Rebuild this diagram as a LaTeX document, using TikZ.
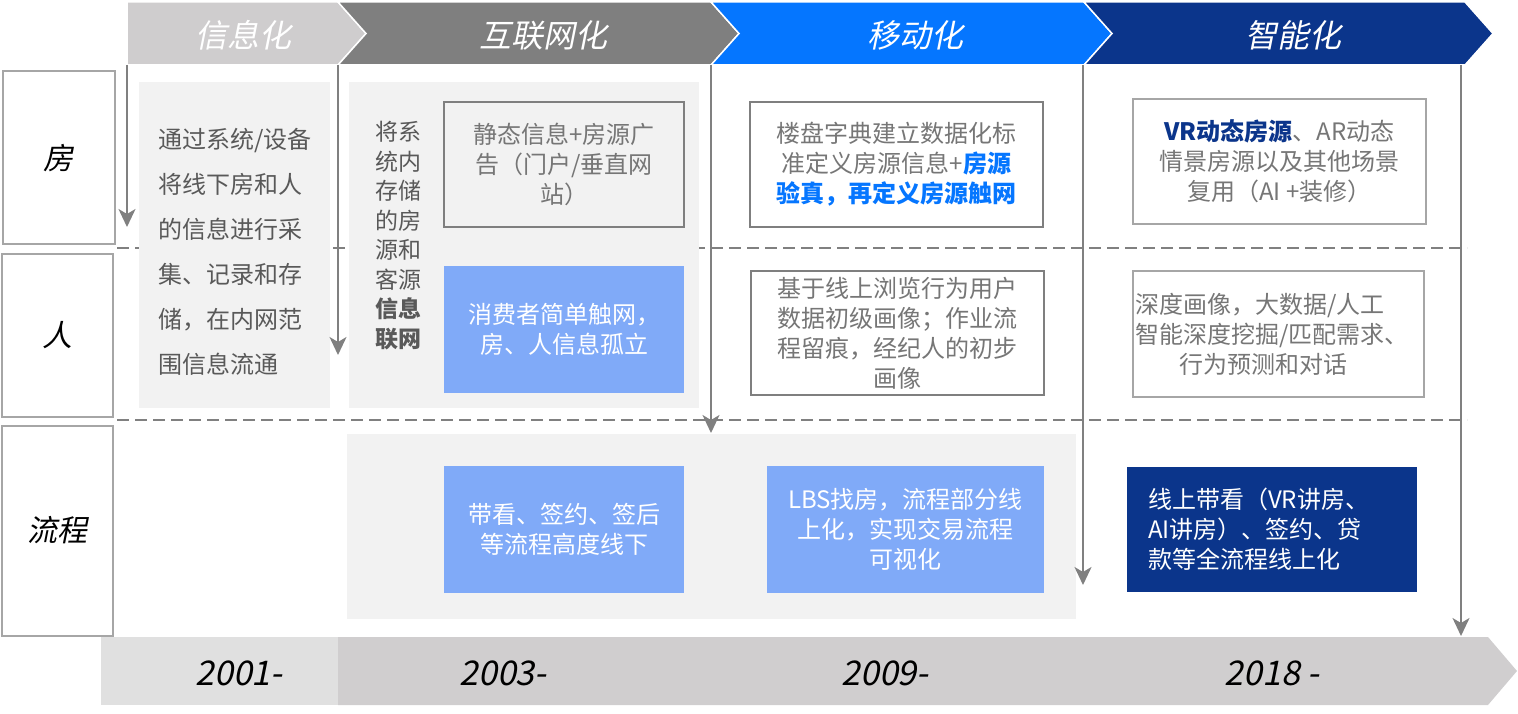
\documentclass[tikz,border=0pt]{standalone}
\usepackage{fontspec}
\setmainfont{Noto Sans CJK SC}
\newfontfamily\itfont{Noto Sans CJK SC}[FakeSlant=0.2]
\usetikzlibrary{arrows.meta}
\definecolor{hdrA}{RGB}{207,205,206}
\definecolor{hdrB}{RGB}{127,127,127}
\definecolor{hdrC}{RGB}{5,118,255}
\definecolor{hdrD}{RGB}{11,53,139}
\definecolor{panel}{RGB}{242,242,242}
\definecolor{lblue}{RGB}{128,170,248}
\definecolor{txtg}{RGB}{89,89,89}
\definecolor{txtl}{RGB}{118,118,118}
\definecolor{lineg}{RGB}{128,128,128}
\definecolor{boxg}{RGB}{166,166,166}
\definecolor{yrA}{RGB}{224,224,224}
\definecolor{yrB}{RGB}{208,206,207}
\begin{document}
\begin{tikzpicture}[x=1pt,y=-1pt,
  arr/.style={draw=lineg, line width=2pt, -{Stealth[length=18pt,width=17pt,inset=5pt]}},
  dline/.style={draw=lineg, line width=2pt, dash pattern=on 12pt off 6pt},
  panelbox/.style={fill=panel, draw=none, inner sep=0pt},
  lbl/.style={draw=boxg, line width=2pt, fill=white, inner sep=0pt, font=\itfont\fontsize{30}{36}\selectfont, text=black},
  hdr/.style={text=white, font=\itfont\fontsize{32}{38}\selectfont, inner sep=0pt},
  yr/.style={text=black, font=\itfont\fontsize{34}{40}\selectfont, inner sep=0pt},
  body/.style={font=\fontsize{24}{30}\selectfont, inner sep=0pt},
  gbox/.style={body, draw=hdrB, line width=2pt, text=txtl, align=center},
  lgbox/.style={body, draw=boxg, line width=2pt, text=txtl, align=center, fill=white},
  bbox/.style={body, fill=lblue, text=white, align=center},
  nbox/.style={body, fill=hdrD, text=white}
]
\useasboundingbox (0,0) rectangle (1518,714);

% header chevrons
\fill[hdrA, draw=white, line width=1.5pt] (127,2) -- (338,2) -- (366,33.5) -- (338,65) -- (127,65) -- cycle;
\fill[hdrB, draw=white, line width=1.5pt] (338,2) -- (711,2) -- (739,33.5) -- (711,65) -- (338,65) -- (366,33.5) -- cycle;
\fill[hdrC, draw=white, line width=1.5pt] (711,2) -- (1084,2) -- (1112,33.5) -- (1084,65) -- (711,65) -- (739,33.5) -- cycle;
\fill[hdrD, draw=white, line width=1.5pt] (1084,2) -- (1465,2) -- (1493,33.5) -- (1465,65) -- (1084,65) -- (1112,33.5) -- cycle;
\node[hdr] (h1) at (243,35) {信息化};
\node[hdr] (h2) at (543,35) {互联网化};
\node[hdr] (h3) at (915,35) {移动化};
\node[hdr] (h4) at (1293,35) {智能化};

% row labels
\node[lbl, minimum width=112pt, minimum height=173pt] (lf) at (58.5,158) {房};
\node[lbl, minimum width=111pt, minimum height=163pt] (lr) at (57.5,335) {人};
\node[lbl, minimum width=111pt, minimum height=210pt] (lp) at (57.5,530.5) {流程};

% dashed separators
\coordinate (d1a) at (117,248); \coordinate (d1b) at (1467,248);
\coordinate (d2a) at (117,420); \coordinate (d2b) at (1467,420);
\draw[dline] (d1a) -- (d1b);
\draw[dline] (d2a) -- (d2b);

% panels
\node[panelbox, minimum width=191pt, minimum height=326pt] (p1) at (234.5,245) {};
\node[panelbox, minimum width=350pt, minimum height=326pt] (p2) at (524,245) {};
\node[panelbox, minimum width=729pt, minimum height=185pt] (p3) at (711.5,526.5) {};

\node[body, text=txtg, align=left, font=\fontsize{24}{45}\selectfont] (t1) at (235,252)
  {通过系统/设备\\将线下房和人\\的信息进行采\\集、记录和存\\储，在内网范\\围信息流通};
\node[body, text=txtg, align=center, font=\fontsize{23}{29.5}\selectfont] (t2) at (398,235.5)
  {将系\\统内\\存储\\的房\\源和\\客源\\\textbf{信息}\\\textbf{联网}};

\node[gbox, minimum width=240pt, minimum height=125pt] (b2a) at (564,164.5)
  {静态信息+房源广\\告（门户/垂直网\\站）};
\node[bbox, minimum width=240pt, minimum height=127pt] (b2b) at (564,329.5)
  {消费者简单触网，\\房、人信息孤立};
\node[bbox, minimum width=240pt, minimum height=127pt] (b3a) at (564,529.5)
  {带看、签约、签后\\等流程高度线下};
\node[bbox, minimum width=277pt, minimum height=127pt] (b3b) at (905.5,529.5)
  {LBS找房，流程部分线\\上化，实现交易流程\\可视化};
\node[nbox, minimum width=290pt, minimum height=125pt, text width=248pt, align=left] (b3c) at (1272,529.5)
  {线上带看（VR讲房、\\AI讲房）、签约、贷\\款等全流程线上化};

\node[gbox, fill=white, minimum width=293pt, minimum height=125pt] (c1) at (896.5,164.5)
  {楼盘字典建立数据化标\\准定义房源信息+\textcolor{hdrC}{\textbf{房源}}\\\textcolor{hdrC}{\textbf{验真，再定义房源触网}}};
\node[gbox, fill=white, minimum width=293pt, minimum height=124pt] (c2) at (897.5,333)
  {基于线上浏览行为用户\\数据初级画像；作业流\\程留痕，经纪人的初步\\画像};

\node[lgbox, minimum width=293pt, minimum height=125pt] (e1) at (1279.5,161.5)
  {\textcolor{hdrD}{\textbf{VR动态房源}}、AR动态\\情景房源以及其他场景\\复用（AI +装修）};
\node[lgbox, minimum width=291pt, minimum height=126pt, text width=287pt, align=left] (e2) at (1278.5,334)
  {深度画像，大数据/人工\\智能深度挖掘/匹配需求、\\\hspace*{44pt}行为预测和对话};

% bottom year bar
\fill[yrA] (101,637) rectangle (338,705);
\fill[yrB] (338,637) -- (1488,637) -- (1517,671) -- (1488,705) -- (338,705) -- cycle;
\node[yr] (y1) at (239,673) {2001-};
\node[yr] (y2) at (503,673) {2003-};
\node[yr] (y3) at (885,673) {2009-};
\node[yr] (y4) at (1272,673) {2018 -};

% vertical arrows
\coordinate (v1s) at (127,65);  \coordinate (v1e) at (127,227);
\coordinate (v2s) at (338,65);  \coordinate (v2e) at (338,355);
\coordinate (v3s) at (711,65);  \coordinate (v3e) at (711,433);
\coordinate (v4s) at (1083,65); \coordinate (v4e) at (1083,585);
\coordinate (v5s) at (1461,65); \coordinate (v5e) at (1461,636);
\draw[arr] (v1s) -- (v1e);
\draw[arr] (v2s) -- (v2e);
\draw[arr] (v3s) -- (v3e);
\draw[arr] (v4s) -- (v4e);
\draw[arr] (v5s) -- (v5e);
\end{tikzpicture}
\end{document}
